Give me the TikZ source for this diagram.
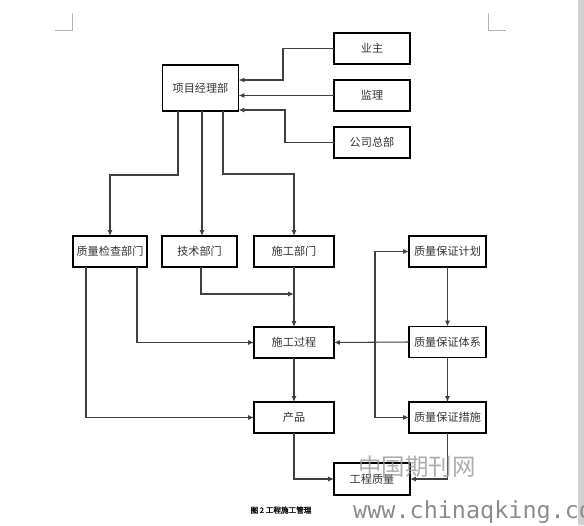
\documentclass[tikz,border=0pt]{standalone}
\usepackage{fontspec}
\newfontfamily\cjk{Noto Sans CJK SC}
\newfontfamily\capfont[FakeBold=1.5]{Noto Sans CJK SC}
\newfontfamily\wmfont{DejaVu Sans Mono}
\usepackage{tikz}
\usetikzlibrary{arrows.meta, positioning}

\begin{document}
\begin{tikzpicture}[x=0.03cm, y=-0.03cm,
    box/.style={draw=black, line width=1pt, inner sep=0pt, outer sep=0pt,
        minimum width=2.28cm, minimum height=0.93cm,
        text=black!80, font=\cjk\fontsize{9.5}{11}\selectfont},
    wide/.style={box, minimum width=2.4cm},
    link/.style={draw=black!75, line width=0.9pt, -{Latex[length=5pt, width=4.2pt]}},
    cropline/.style={draw=black!30, line width=0.6pt}]
    \useasboundingbox (0,0) rectangle (584,525);

    % Page margin marks and scroll bar
    \draw[cropline] (55,30) -- (72,30) -- (72,13);
    \draw[cropline] (506,30) -- (488,30) -- (488,13);
    \fill[black!18] (578,0) rectangle (584,525);

    % Top: project department and its three inputs
    \node[box, minimum height=1.38cm] (pm) at (200.5,88) {项目经理部};
    \node[box] (owner) at (372,48.5) {业主};
    \node[box] (super) at (372,95.5) {监理};
    \node[box] (hq) at (372,142.5) {公司总部};

    \draw[link] (owner.west) -- ++(-51,0) |- (pm.east |- 0,80);
    \draw[link] (super.west) -- (pm.east |- super.west);
    \draw[link] (hq.west) -- ++(-49,0) |- (pm.east |- 0,110);

    % Departments
    \node[box, minimum width=2.22cm] (check) at (110,251.5) {质量检查部门};
    \node[box, minimum width=2.25cm] (tech) at (199.5,251.5) {技术部门};
    \node[wide] (build) at (294,251.5) {施工部门};

    \draw[link] (pm.south -| 178,0) |- (110,175) -- (check.north);
    \draw[link] (pm.south -| 202,0) -- (tech.north -| 202,0);
    \draw[link] (pm.south -| 223,0) |- (294,174) -- (build.north);

    % Construction process and product
    \node[wide] (process) at (294,342.5) {施工过程};
    \node[wide] (product) at (294,417.5) {产品};
    \node[box, minimum height=0.96cm] (quality) at (372,479) {工程质量};

    \draw[link] (tech.south -| 201,0) |- (build.south |- 0,294);
    \draw[link] (build.south) -- (process.north);
    \draw[link] (check.south -| 137,0) |- (process.west);
    \draw[link] (check.south -| 86,0) |- (product.west);
    \draw[link] (process.south) -- (product.north);
    \draw[link] (product.south) |- (quality.west);

    % Quality assurance chain
    \node[box, minimum width=2.31cm] (plan) at (447.5,251.5) {质量保证计划};
    \node[box, minimum width=2.31cm] (system) at (447.5,342) {质量保证体系};
    \node[box, minimum width=2.31cm] (measure) at (447.5,417.5) {质量保证措施};

    \draw[link] (plan.south) -- (system.north);
    \draw[link] (system.south) -- (measure.north);
    \draw[link] (system.west) -- (process.east);
    \coordinate (qa) at (375,342);
    \draw[link] (qa) |- (plan.west);
    \draw[link] (qa) |- (measure.west);
    \draw[link] (measure.south) |- (quality.east);

    % Caption
    \node[font=\capfont\fontsize{6.5}{8}\selectfont] (caption) at (281,510) {图 2 工程施工管理};

    % Watermark
    \node[text=black!40, opacity=0.8, font=\cjk\fontsize{20}{22}\selectfont] (wmcn) at (417,467) {中国期刊网};
    \node[anchor=west, inner sep=0pt, text=black!45, font=\wmfont\fontsize{20}{22}\selectfont] (wmurl) at (353,512) {www.chinaqking.com};
\end{tikzpicture}
\end{document}
